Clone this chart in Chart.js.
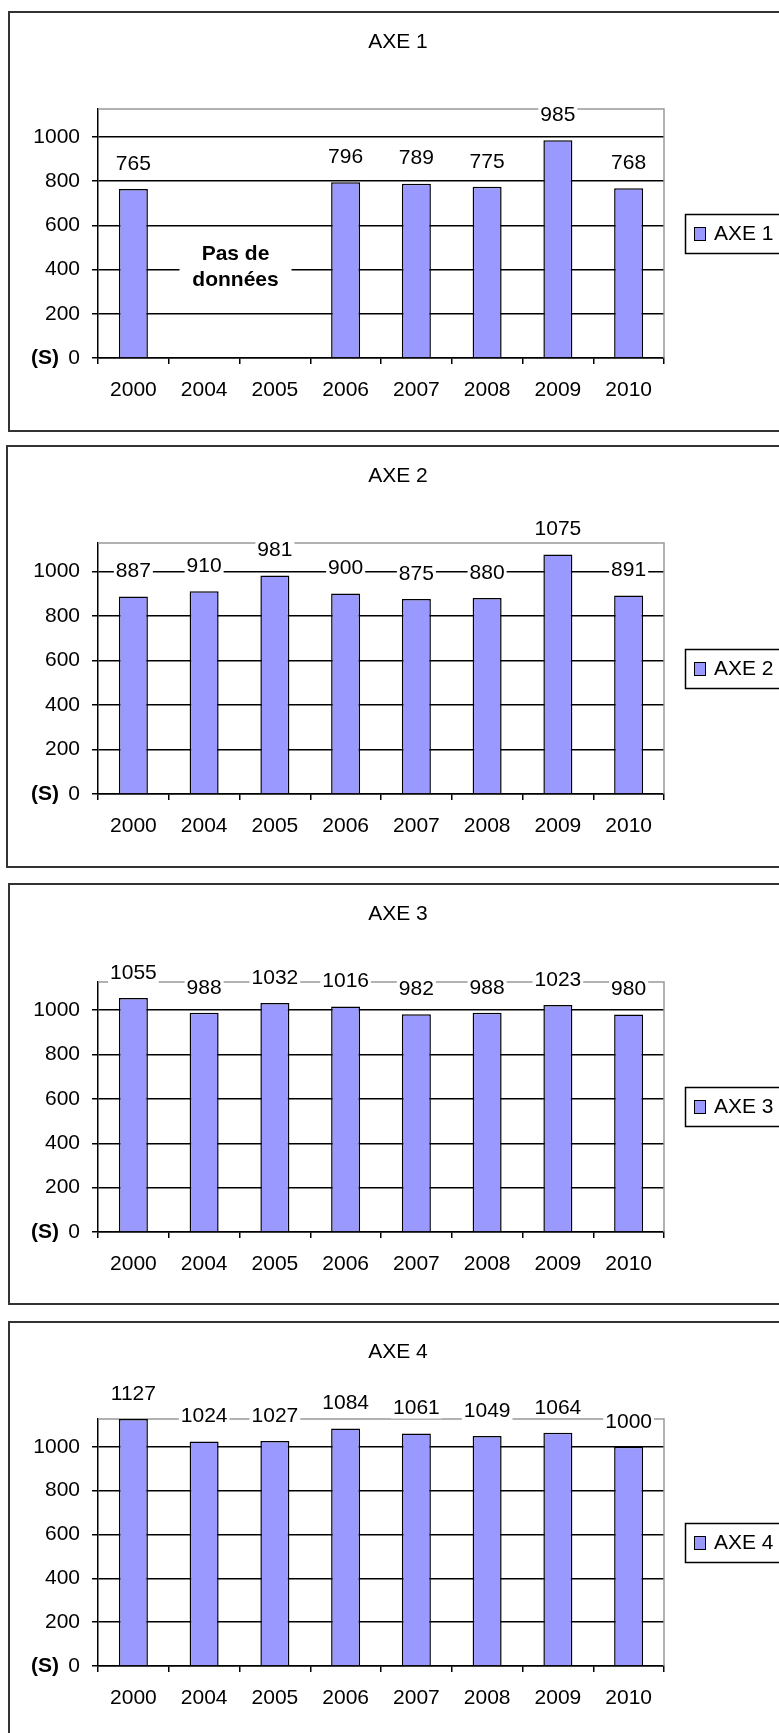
<!DOCTYPE html>
<html lang="fr">
<head>
<meta charset="UTF-8">
<title>AXE 1 - AXE 4</title>
<script src="https://cdn.jsdelivr.net/npm/chart.js"></script>
<style>
  html, body { margin: 0; padding: 0; background: #fff; overflow: hidden; }
  #page { position: relative; width: 779px; height: 1733px; overflow: hidden; }
  .frame { position: absolute; width: 782px; border: 2px solid #333; box-sizing: border-box; }
  .chart { position: absolute; left: 0; }
</style>
</head>
<body>
<div id="page"></div>
<script>
  const years = ['2000', '2004', '2005', '2006', '2007', '2008', '2009', '2010'];
  const axe1 = [765, null, null, 796, 789, 775, 985, 768];
  const axe2 = [887, 910, 981, 900, 875, 880, 1075, 891];
  const axe3 = [1055, 988, 1032, 1016, 982, 988, 1023, 980];
  const axe4 = [1127, 1024, 1027, 1084, 1061, 1049, 1064, 1000];
  const yTicks = [0, 200, 400, 600, 800, 1000];
  const yMax = 1127;
  const names = ['AXE 1', 'AXE 2', 'AXE 3', 'AXE 4'];
  const series = [axe1, axe2, axe3, axe4];
  const noteText = ['Pas de', 'données'];

  // page geometry of the four panels
  const panelTops = [11, 445, 883, 1321];
  const panelLefts = [8, 6, 8, 8];
  const panelHeights = [421, 423, 422, 440];
  const plotTops = [109, 543, 982, 1419];
  const plotBottoms = [358, 794, 1232, 1666];
  const CANVAS_H = 422;
  const FONT = "'Liberation Sans', Arial, sans-serif";
  const BAR = '#9999ff';

  // title, value labels, note, legend and the grey plot frame
  const decor = {
    id: 'decor',
    beforeDatasetsDraw(chart) {
      const { ctx, chartArea: a } = chart;
      ctx.save();
      ctx.strokeStyle = '#999';
      ctx.lineWidth = 1.5;
      ctx.beginPath();
      ctx.moveTo(a.left, a.top);
      ctx.lineTo(a.right, a.top);
      ctx.lineTo(a.right, a.bottom);
      ctx.stroke();
      ctx.restore();
    },
    afterDatasetsDraw(chart, args, opts) {
      const { ctx, chartArea: a } = chart;
      const data = chart.data.datasets[0].data;
      const meta = chart.getDatasetMeta(0);
      const x = chart.scales.x, y = chart.scales.y;
      ctx.save();
      ctx.textAlign = 'center';
      ctx.textBaseline = 'middle';
      ctx.font = `21px ${FONT}`;

      meta.data.forEach((bar, i) => {
        if (data[i] == null) return;
        const txt = String(data[i]);
        const w = ctx.measureText(txt).width;
        const ty = bar.y - 25;
        ctx.fillStyle = '#fff';
        ctx.fillRect(bar.x - w / 2 - 2, ty - 10, w + 4, 20);
        ctx.fillStyle = '#000';
        ctx.fillText(txt, bar.x, ty);
      });

      if (opts.note) {
        const nx = x.getPixelForValue(1.5) - 4;
        const ny = y.getPixelForValue(410);
        ctx.fillStyle = '#fff';
        ctx.fillRect(nx - 56, ny - 28, 112, 56);
        ctx.fillStyle = '#000';
        ctx.font = `bold 21px ${FONT}`;
        ctx.fillText(noteText[0], nx, ny - 13);
        ctx.fillText(noteText[1], nx, ny + 13);
      }

      // title
      ctx.font = `21px ${FONT}`;
      ctx.fillStyle = '#000';
      ctx.fillText(opts.title, 398, 31);

      // (S) unit before the 0 tick
      ctx.font = `bold 21px ${FONT}`;
      ctx.textAlign = 'right';
      ctx.fillText('(S)', 59, y.getPixelForValue(0));

      // legend, centred on the plot height
      const cy = Math.round((a.top + a.bottom) / 2);
      ctx.lineWidth = 1.5;
      ctx.strokeStyle = '#000';
      ctx.fillStyle = '#fff';
      ctx.fillRect(685.5, cy - 19.5, 120, 39);
      ctx.strokeRect(685.5, cy - 19.5, 120, 39);
      ctx.fillStyle = BAR;
      ctx.lineWidth = 1;
      ctx.fillRect(694.5, cy - 6.5, 11, 13);
      ctx.strokeRect(694.5, cy - 6.5, 11, 13);
      ctx.fillStyle = '#000';
      ctx.textAlign = 'left';
      ctx.font = `21px ${FONT}`;
      ctx.fillText(opts.title, 714, cy);
      ctx.restore();
    }
  };

  const page = document.getElementById('page');

  series.forEach((vals, k) => {
    const frame = document.createElement('div');
    frame.className = 'frame';
    frame.style.top = panelTops[k] + 'px';
    frame.style.left = panelLefts[k] + 'px';
    frame.style.height = panelHeights[k] + 'px';
    page.appendChild(frame);

    const canvas = document.createElement('canvas');
    canvas.className = 'chart';
    canvas.width = 779;
    canvas.height = CANVAS_H;
    canvas.style.top = panelTops[k] + 'px';
    page.appendChild(canvas);

    const padTop = plotTops[k] - panelTops[k];
    const xAxisH = CANVAS_H - (plotBottoms[k] - panelTops[k]);

    new Chart(canvas, {
      type: 'bar',
      data: {
        labels: years,
        datasets: [{
          label: names[k],
          data: vals,
          backgroundColor: BAR,
          borderColor: '#000',
          borderWidth: 1.5,
          barPercentage: 0.41,
          categoryPercentage: 1
        }]
      },
      options: {
        responsive: false,
        animation: false,
        devicePixelRatio: 1,
        layout: { padding: { top: padTop, right: 115, left: 0, bottom: 0 } },
        scales: {
          x: {
            grid: { drawOnChartArea: false, drawTicks: true, tickLength: 6, color: '#000', lineWidth: 1.5, offset: true },
            border: { color: '#000', width: 1.5 },
            ticks: { color: '#000', font: { family: FONT, size: 21 }, padding: 14, maxRotation: 0, autoSkip: false },
            afterFit(s) { s.height = xAxisH; }
          },
          y: {
            min: 0,
            max: yMax,
            afterBuildTicks(s) { s.ticks = yTicks.map(v => ({ value: v })); },
            grid: { color: '#000', lineWidth: 1.5, tickLength: 6 },
            border: { color: '#000', width: 1.5 },
            ticks: { color: '#000', font: { family: FONT, size: 21 }, padding: 12, callback: v => String(v) },
            afterFit(s) { s.width = 98; }
          }
        },
        plugins: {
          legend: { display: false },
          title: { display: false },
          tooltip: { enabled: false },
          decor: { title: names[k], note: k === 0 }
        }
      },
      plugins: [decor]
    });
  });
</script>
</body>
</html>
